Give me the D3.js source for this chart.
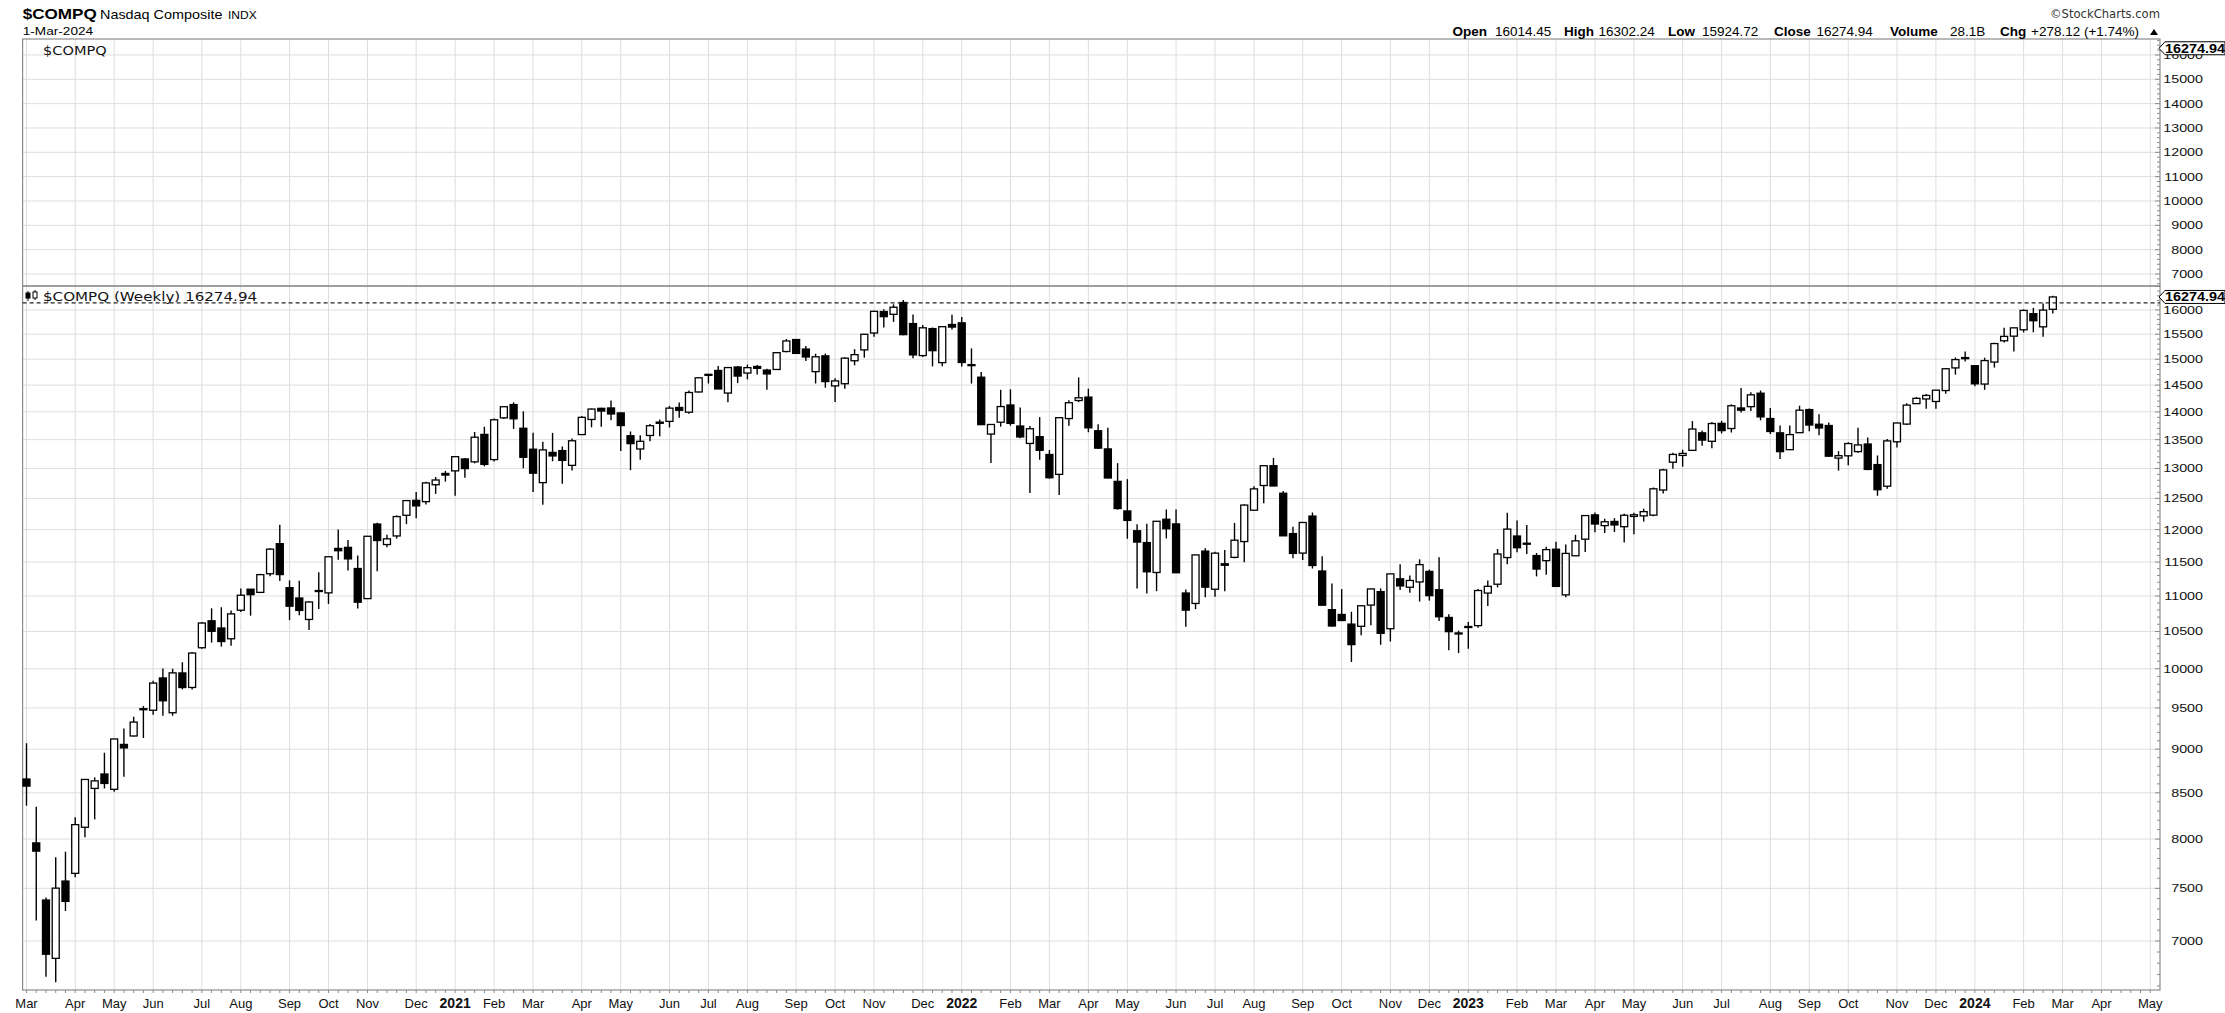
<!DOCTYPE html>
<html><head><meta charset="utf-8">
<script src="https://cdn.jsdelivr.net/npm/d3@7"></script>
<style>body{margin:0;background:#fff;overflow:hidden} svg{display:block}</style>
</head><body>
<svg id="c" width="2225" height="1013"></svg>
<script>
// ---------------- DATA ----------------
const startDate = "2020-03-02"; // Monday of first weekly bar
const opens = [8655,7960,7386,6843,7572,7649,8125,8549,8712,8539,9056,9157,9480,9471,9880,9440,9945,9758,10279,10648,
10548,10400,10797,11098,11052,11325,11780,11120,10971,10667,11079,11045,11707,11723,11403,10962,12087,11767,11900,12227,
12468,12447,12726,12915,12959,13163,13113,13593,13152,13891,14135,13703,13332,12761,13276,13308,13053,13590,13862,14065,
14072,13981,13569,13336,13574,13792,13827,14081,13995,14370,14706,14781,14350,14848,14731,14858,14788,14800,15152,15392,
15201,14758,15066,14485,14526,14970,15184,15524,15967,15909,16157,15717,15072,15614,14933,15698,15732,14888,14651,13599,
13812,14127,13743,13433,13553,13240,12900,13878,14210,14274,13658,13337,12782,12296,11981,11797,11344,12163,12089,11043,
10893,11666,11098,11474,11571,11813,12308,12713,13047,12585,11937,11636,12214,11366,10805,10737,10602,10572,10870,11063,
10538,11250,11127,11204,11360,11090,10695,10480,10562,10581,11042,11171,11568,11899,11776,11598,11521,11695,11016,11595,
11850,12233,12062,12128,12045,12208,12217,12229,12638,13107,13224,13312,13621,13471,13791,13698,14072,14096,14347,13879,
13621,13324,13624,14042,13775,13752,13178,13217,13290,13423,13066,12701,13462,13778,14152,14239,14192,14397,14830,15032,
14873,14520,14944,15367,15460,15590,15922,15650,16014.45];
const highs = [9070,8347,7411,7811,7869,8232,8650,8674,8958,9125,9248,9391,9523,9845,10002,10000,10086,10222,10632,10824,
10839,10792,11108,11101,11324,11708,12074,11227,11223,10924,11347,11580,12000,11837,11600,11900,12108,11920,12224,12464,
12607,12774,12855,12958,13208,13174,13636,13729,13879,14096,14175,14009,13621,13464,13620,13380,13520,13925,14063,14078,
14211,13990,13645,13580,13780,13859,14108,14175,14397,14646,14713,14866,14846,14864,14895,14888,14812,15130,15403,15404,
15264,15108,15112,14631,15038,15199,15506,15984,16017,16119,16212,15904,15687,15636,15661,15901,15852,15214,14752,13771,
14410,14420,14082,13744,13905,13318,13904,14216,14646,14432,13775,13711,13090,12819,12082,12091,12131,12320,12320,11093,
11610,11708,11658,11683,12105,12404,12700,13047,13181,12621,12044,12112,12271,11589,11182,11100,10775,10864,11104,11111,
11324,11468,11300,11541,11387,11572,10741,10512,10633,11100,11224,11698,12269,12142,12070,11637,11731,11811,11768,11918,
12227,12270,12171,12181,12250,12267,12332,12680,12994,13272,13323,13833,13661,13816,13837,14140,14447,14363,14396,14073,
13752,13753,14113,14062,13955,13806,13297,13455,13714,13536,13223,13512,13802,14158,14275,14331,14405,14830,15035,15150,
14888,15029,15325,15629,15636,16010,16043,16134,16302.24];
const lows = [8358,7190,6680,6631,7281,7609,8019,8209,8549,8512,8681,9150,9133,9415,9403,9403,9733,9732,10264,10349,
10294,10305,10772,10720,11044,11288,11219,10657,10725,10520,10815,10886,11535,11375,10822,10956,11362,11725,11859,12085,
12180,12400,12575,12778,12543,12841,13087,13036,13119,13870,13691,13003,12607,12397,13123,12742,12966,13587,13720,13729,
13846,13301,12971,13148,13470,13559,13717,13895,13965,14361,14530,14427,14180,14537,14610,14704,14414,14790,15136,15103,
14964,14531,14450,14181,14433,14880,15030,15446,15638,15752,15481,15018,15045,14860,14861,15595,14857,14529,13764,13094,
13732,13748,13526,12587,13149,12829,12555,13747,14180,13632,13337,12831,12318,11856,11108,11035,11069,11861,11336,10565,
10812,10983,10990,11068,11556,11498,12305,12420,12705,11902,11558,11530,11403,10868,10565,10649,10089,10448,10587,10319,
10364,11085,11048,10920,10933,10646,10245,10207,10265,10551,10858,11124,11468,11650,11621,11286,11309,11138,10982,11591,
11653,11956,11946,11961,11797,11925,12126,12211,12582,12995,13030,13305,13391,13349,13611,13627,13991,14017,13845,13600,
13161,13317,13624,13650,13580,13200,12963,13053,13270,12970,12543,12660,13360,13760,14147,14058,14058,14336,14700,14955,
14477,14410,14837,15334,15150,15535,15539,15449,15924.72];
const closes = [8575,7875,6880,7502,7373,8153,8650,8634,8605,9121,9015,9325,9490,9814,9589,9946,9757,10208,10617,10503,
10363,10745,11011,11019,11312,11696,11313,10854,10794,10914,11075,11580,11672,11548,10911,11895,11829,11855,12206,12464,
12378,12756,12805,12888,13202,12998,13543,13070,13856,14095,13874,13192,12920,13320,13215,13138,13480,13900,14052,14016,
13962,13752,13430,13471,13749,13814,14069,14030,14360,14639,14701,14427,14837,14673,14835,14823,14714,15129,15363,15115,
15044,15048,14567,14580,15021,15090,15498,15971,15860,16057,15491,15085,15630,15169,15653,15645,14936,14894,13768,13771,
14098,13791,13548,13694,13313,12843,13894,14169,14261,13711,13351,12839,12335,12145,11805,11354,12131,12013,11340,10798,
11608,11128,11635,11452,11834,12391,12657,13047,12705,11902,11631,12112,11448,10868,10576,10652,10321,10860,11102,10475,
11323,11146,11226,11461,11005,10705,10498,10466,10569,11079,11140,11622,12007,11718,11787,11395,11689,11139,11631,11824,
12222,12088,12123,12073,12227,12235,12285,12658,12975,13241,13259,13689,13492,13788,13661,14113,14032,14316,13909,13645,
13290,13590,14031,13761,13708,13211,13219,13431,13407,12984,12643,13478,13798,14125,14251,14305,14404,14814,14993,15011,
14524,14973,15311,15455,15629,15990,15776,15997,16274.94];
const mainTicks = [7000,7500,8000,8500,9000,9500,10000,10500,11000,11500,12000,12500,13000,13500,14000,14500,15000,15500,16000];
const topTicks = [7000,8000,9000,10000,11000,12000,13000,14000,15000,16000];
const monthNames = ["Jan","Feb","Mar","Apr","May","Jun","Jul","Aug","Sep","Oct","Nov","Dec"];
const hdrLabels = ["Open","High","Low","Close","Volume","Chg"];
const hdrValues = ["16014.45","16302.24","15924.72","16274.94","28.1B","+278.12 (+1.74%)"];
const symbol = "$COMPQ", symbolName = "Nasdaq Composite", symbolType = "INDX", chartDate = "1-Mar-2024";
const lastLabel = "16274.94";

// ---------------- LAYOUT ----------------
const svg = d3.select("#c");
const L = 22.6, R = 2160, TOP1 = 39, B1 = 286, B2 = 990;
const nFuture = 219;
const x = d3.scaleLinear().domain([-0.4, nFuture]).range([L, R]);
const yMain = d3.scaleLog().domain([6565, 16510]).range([B2, B1]);
const yTop = d3.scaleLinear().domain([6507, 16656]).range([B1, TOP1]);
const ARIAL = "'Liberation Sans', Arial, sans-serif";
const DEJ = "'DejaVu Sans', Verdana, sans-serif";

function T(g, px, py, s, o = {}) {
  return g.append("text")
    .attr("transform", `translate(${px},${py}) scale(${o.sx || 1},1)`)
    .attr("font-family", o.f || ARIAL).attr("font-size", o.fs || 12)
    .attr("font-weight", o.w || "normal").attr("text-anchor", o.a || "start")
    .attr("fill", o.c || "#000").text(s);
}

const n = closes.length;
const t0 = new Date(startDate + "T00:00:00Z");
const weekDate = i => new Date(t0.getTime() + i * 7 * 86400000);
const monthIdx = d3.range(0, nFuture).filter(i => weekDate(i).getUTCDate() <= 7);

// grid
const grid = svg.append("g").attr("stroke", "#dedede").attr("stroke-width", 1);
monthIdx.forEach(i => {
  grid.append("line").attr("x1", x(i)).attr("x2", x(i)).attr("y1", TOP1).attr("y2", B2);
});
topTicks.forEach(v => grid.append("line").attr("x1", L).attr("x2", R).attr("y1", yTop(v)).attr("y2", yTop(v)));
mainTicks.forEach(v => grid.append("line").attr("x1", L).attr("x2", R).attr("y1", yMain(v)).attr("y2", yMain(v)));

// panel borders
const bord = svg.append("g").attr("fill", "none").attr("stroke", "#8c8c8c").attr("stroke-width", 1.2);
bord.append("rect").attr("x", L).attr("y", TOP1).attr("width", R - L).attr("height", B1 - TOP1);
bord.append("rect").attr("x", L).attr("y", B1).attr("width", R - L).attr("height", B2 - B1);

// minor ticks y
const tk = svg.append("g").attr("stroke", "#8c8c8c").attr("stroke-width", 1);
d3.range(6600, 16501, 100).forEach(v => {
  const big = v % 500 === 0;
  tk.append("line").attr("x1", R - (big ? 5 : 3)).attr("x2", R).attr("y1", yMain(v)).attr("y2", yMain(v));
});
d3.range(6600, 16601, 200).forEach(v => {
  const big = v % 1000 === 0;
  tk.append("line").attr("x1", R - (big ? 5 : 3)).attr("x2", R).attr("y1", yTop(v)).attr("y2", yTop(v));
});
// minor ticks x
d3.range(0, nFuture).forEach(i => {
  tk.append("line").attr("x1", x(i)).attr("x2", x(i)).attr("y1", B2).attr("y2", B2 + 3);
});

// axis labels
const ax = svg.append("g");
topTicks.forEach(v => T(ax, 2203, yTop(v) + 4, String(v), {fs: 11, sx: 1.3, a: "end", c: "#111"}));
mainTicks.forEach(v => T(ax, 2203, yMain(v) + 4, String(v), {fs: 11, sx: 1.3, a: "end", c: "#111"}));

// x labels
monthIdx.forEach(i => {
  const d = weekDate(i), m = d.getUTCMonth();
  const isYear = m === 0;
  const lbl = isYear ? String(d.getUTCFullYear()) : monthNames[m];
  T(ax, x(i), 1008, lbl, {fs: isYear ? 14 : 13, w: isYear ? "bold" : "normal", a: "middle", sx: 1.0, c: "#111"});
});

// candles
const cg = svg.append("g");
for (let i = 0; i < n; i++) {
  const o = opens[i], h = highs[i], l = lows[i], c = closes[i];
  const cx = x(i);
  cg.append("line").attr("x1", cx).attr("x2", cx).attr("y1", yMain(h)).attr("y2", yMain(l))
    .attr("stroke", "#000").attr("stroke-width", 1.4);
  const yT = yMain(Math.max(o, c)), yB = yMain(Math.min(o, c));
  cg.append("rect").attr("x", cx - 3.5).attr("y", yT).attr("width", 7).attr("height", Math.max(1, yB - yT))
    .attr("fill", c >= o ? "#fff" : "#000").attr("stroke", "#000").attr("stroke-width", 1.3);
}

// last price dashed line
const yLast = yMain(closes[n - 1]) + 6;
svg.append("line").attr("x1", L).attr("x2", R).attr("y1", yLast).attr("y2", yLast)
  .attr("stroke", "#222").attr("stroke-width", 1.2).attr("stroke-dasharray", "4,3");

// panel labels
T(svg, 43, 55, symbol, {f: DEJ, fs: 13, sx: 1.12, c: "#111"});
// small candle icon
const ic = svg.append("g").attr("stroke", "#000").attr("stroke-width", 1);
ic.append("line").attr("x1", 28).attr("x2", 28).attr("y1", 291).attr("y2", 301);
ic.append("rect").attr("x", 26).attr("y", 293).attr("width", 4).attr("height", 5).attr("fill", "#000");
ic.append("line").attr("x1", 35).attr("x2", 35).attr("y1", 290).attr("y2", 300);
ic.append("rect").attr("x", 33).attr("y", 292).attr("width", 4).attr("height", 6).attr("fill", "#fff");
T(svg, 43, 300.5, `${symbol} (Weekly) ${closes[n - 1].toFixed(2)}`, {f: DEJ, fs: 12.5, sx: 1.21, c: "#111"});

// price flags
function flag(cy) {
  const g = svg.append("g");
  g.append("path").attr("d", `M2159,${cy} L2165,${cy - 6.5} L2225,${cy - 6.5} L2225,${cy + 6.5} L2165,${cy + 6.5} Z`)
    .attr("fill", "#fff").attr("stroke", "#000").attr("stroke-width", 1);
  T(g, 2165, cy + 4.5, lastLabel, {fs: 12, w: "bold", sx: 1.2});
}
flag(yTop(closes[n - 1]));
flag(yMain(closes[n - 1]));

// header
T(svg, 22.7, 19.3, symbol, {fs: 15, w: "bold", sx: 1.14});
T(svg, 100, 19.3, symbolName, {fs: 12, sx: 1.2});
T(svg, 228, 19.3, symbolType, {fs: 10, sx: 1.2});
T(svg, 22.7, 35, chartDate, {fs: 10.5, sx: 1.3});
T(svg, 2160, 18.3, "\u00A9StockCharts.com", {f: DEJ, fs: 11.6, a: "end", c: "#333"});
const labX = [1452.5, 1564, 1668, 1774, 1890, 2000];
const valX = [1495, 1598.6, 1702, 1816.5, 1950, 2031];
hdrLabels.forEach((s, k) => {
  T(svg, labX[k], 36, s, {fs: 13.5, w: "bold"});
  T(svg, valX[k], 36, hdrValues[k], {fs: 12.5, sx: 1.08});
});
svg.append("path").attr("d", "M2150,35 L2154,29 L2158,35 Z").attr("fill", "#000");
</script>
</body></html>
